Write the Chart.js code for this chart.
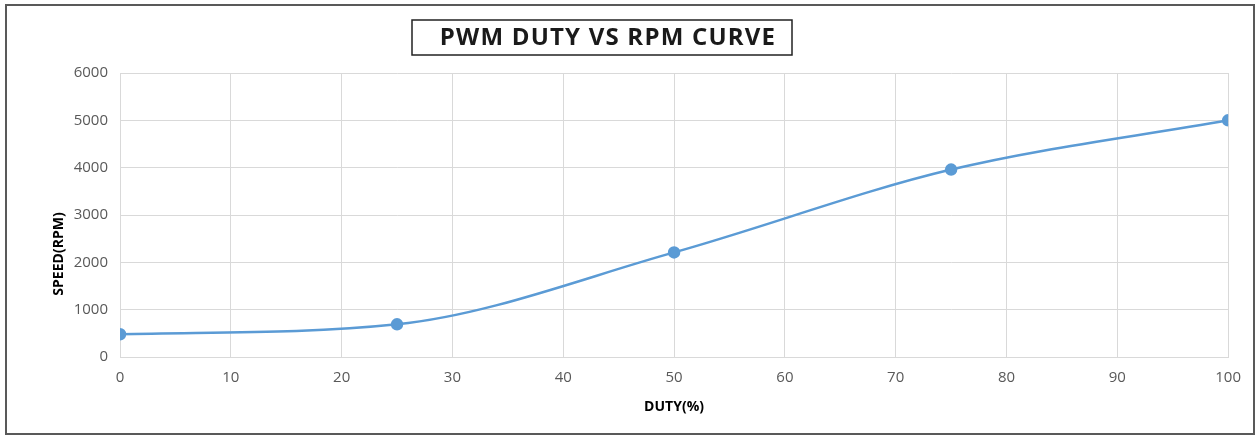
<!DOCTYPE html>
<html>
<head>
<meta charset="utf-8">
<script src="https://cdn.jsdelivr.net/npm/chart.js@4/dist/chart.umd.min.js"></script>
<style>
    html, body { margin: 0; padding: 0; background: #fff; }
    .frame {
        position: absolute;
        left: 5px;
        top: 4px;
        width: 1246px;
        height: 427px;
        border: 2px solid #595959;
        background: #fff;
    }
</style>
</head>
<body>
<div class="frame">
    <canvas id="rpmChart" width="1246" height="427"></canvas>
</div>
<script>
const dutyValues = [0, 25, 50, 75, 100];
const rpmValues = [480, 690, 2210, 3960, 5000];
const chartTitle = 'PWM DUTY VS RPM CURVE';
const xAxisTitle = 'DUTY(%)';
const yAxisTitle = 'SPEED(RPM)';

const FONT = '"Open Sans", "Liberation Sans", sans-serif';

// boxed title and rotated y title, placed like the original sheet
const decorations = {
    id: 'decorations',
    afterDraw(chart) {
        const ctx = chart.ctx;
        ctx.save();
        ctx.fillStyle = '#fff';
        ctx.fillRect(405, 14, 380, 35);
        ctx.strokeStyle = '#222';
        ctx.lineWidth = 1.5;
        ctx.strokeRect(405, 14, 380, 35);
        ctx.fillStyle = '#1a1a1a';
        ctx.font = 'bold 24px ' + FONT;
        ctx.letterSpacing = '1.2px';
        ctx.textAlign = 'center';
        ctx.textBaseline = 'middle';
        ctx.fillText(chartTitle, 601, 32);

        ctx.letterSpacing = '0px';
        ctx.translate(52, 248);
        ctx.rotate(-Math.PI / 2);
        ctx.font = 'bold 14px ' + FONT;
        ctx.fillStyle = '#000';
        ctx.fillText(yAxisTitle, 0, 0);
        ctx.restore();
    }
};

new Chart(document.getElementById('rpmChart'), {
    type: 'line',
    data: {
        datasets: [{
            data: dutyValues.map((d, i) => ({ x: d, y: rpmValues[i] })),
            borderColor: '#5b9bd5',
            backgroundColor: '#5b9bd5',
            borderWidth: 2.5,
            pointRadius: 5,
            pointHoverRadius: 5,
            cubicInterpolationMode: 'monotone',
            fill: false
        }]
    },
    options: {
        responsive: false,
        animation: false,
        layout: { padding: { top: 67, right: 23, left: 0, bottom: 0 } },
        plugins: {
            legend: { display: false },
            tooltip: { enabled: false }
        },
        scales: {
            x: {
                type: 'linear',
                min: 0,
                max: 100,
                ticks: {
                    stepSize: 10,
                    padding: 12,
                    color: '#595959',
                    font: { family: FONT, size: 15 },
                    callback: v => String(v)
                },
                grid: { color: '#d9d9d9', drawTicks: false },
                border: { color: '#d9d9d9' },
                title: {
                    display: true,
                    text: xAxisTitle,
                    color: '#000',
                    padding: { top: 0, bottom: 18 },
                    font: { family: FONT, size: 14, weight: 'bold' }
                },
                afterFit(scale) { scale.height = 76; }
            },
            y: {
                min: 0,
                max: 6000,
                ticks: {
                    stepSize: 1000,
                    padding: 12,
                    color: '#595959',
                    font: { family: FONT, size: 15 },
                    callback: v => String(v)
                },
                grid: { color: '#d9d9d9', drawTicks: false },
                border: { color: '#d9d9d9' },
                afterFit(scale) { scale.width = 113; }
            }
        }
    },
    plugins: [decorations]
});
</script>
</body>
</html>
